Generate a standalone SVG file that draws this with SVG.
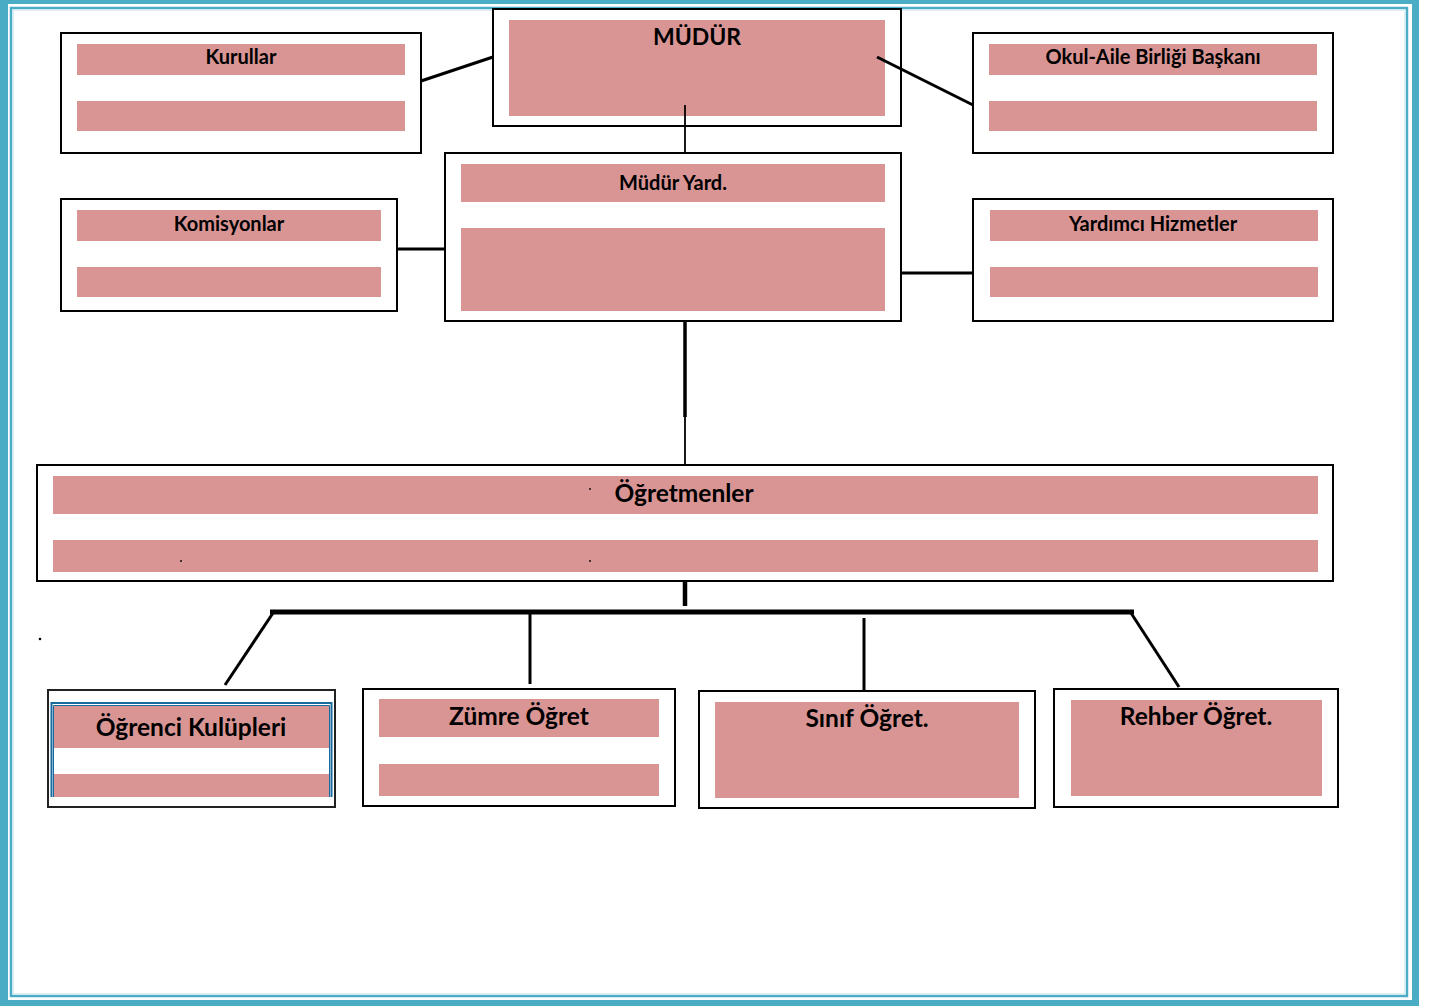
<svg xmlns="http://www.w3.org/2000/svg" width="1443" height="1006" viewBox="0 0 1443 1006">
<style>
.box{fill:#fff;stroke:#000;stroke-width:2}
.bar{fill:#D99594}
.t{font-family:Lato,"Open Sans","Liberation Sans",sans-serif;font-weight:bold;fill:#000;text-anchor:middle}
.s{font-size:20px}
.m{font-size:23px}
.l{font-size:24.5px}
.c{fill:none;stroke:#000;stroke-width:3}
</style>
<rect x="0" y="0" width="1443" height="1006" fill="#fff"/>
<g id="frame">
<path d="M0 0H1419V1006H0Z M8 4V1000H1412V4Z" fill="#4BACC6" fill-rule="evenodd"/>
<rect x="11" y="8" width="1396" height="988" fill="none" stroke="#4BACC6" stroke-width="2.5"/>
<rect x="13.5" y="10.5" width="1391" height="983" fill="none" stroke="#DAEEF3" stroke-width="1"/>
</g>
<g id="mudur">
<rect class="box" x="493" y="9" width="408" height="117"/>
<rect class="bar" x="509" y="20" width="376" height="96"/>
<text class="t m" x="697" y="45">MÜDÜR</text>
</g>
<g id="kurullar">
<rect class="box" x="61" y="33" width="360" height="120"/>
<rect class="bar" x="77" y="44" width="328" height="31"/>
<rect class="bar" x="77" y="101" width="328" height="30"/>
<text class="t s" x="241" y="64">Kurullar</text>
</g>
<g id="okul-aile">
<rect class="box" x="973" y="33" width="360" height="120"/>
<rect class="bar" x="989" y="44" width="328" height="31"/>
<rect class="bar" x="989" y="101" width="328" height="30"/>
<text class="t s" x="1153" y="64">Okul-Aile Birliği Başkanı</text>
</g>
<g id="mudur-yard">
<rect class="box" x="445" y="153" width="456" height="168"/>
<rect class="bar" x="461" y="164" width="424" height="38"/>
<rect class="bar" x="461" y="228" width="424" height="83"/>
<text class="t s" x="673" y="190">Müdür Yard.</text>
</g>
<g id="komisyonlar">
<rect class="box" x="61" y="199" width="336" height="112"/>
<rect class="bar" x="77" y="210" width="304" height="31"/>
<rect class="bar" x="77" y="267" width="304" height="30"/>
<text class="t s" x="229" y="231">Komisyonlar</text>
</g>
<g id="yardimci">
<rect class="box" x="973" y="199" width="360" height="122"/>
<rect class="bar" x="990" y="210" width="328" height="31"/>
<rect class="bar" x="990" y="267" width="328" height="30"/>
<text class="t s" x="1153" y="231">Yardımcı Hizmetler</text>
</g>
<g id="ogretmenler">
<rect class="box" x="37" y="465" width="1296" height="116"/>
<rect class="bar" x="53" y="476" width="1265" height="38"/>
<rect class="bar" x="53" y="540" width="1265" height="32"/>
<text class="t l" x="684" y="502">Öğretmenler</text>
<circle cx="590" cy="489" r="0.9" fill="#000"/>
<circle cx="181" cy="561" r="0.9" fill="#000"/>
<circle cx="590" cy="561" r="0.9" fill="#000"/>
</g>
<circle cx="40" cy="639" r="1.3" fill="#000"/>
<g id="ogrenci-kulupleri">
<rect x="48" y="690" width="287" height="117" fill="#fff" stroke="#222" stroke-width="2"/>
<rect class="bar" x="54" y="705" width="275" height="43"/>
<rect class="bar" x="54" y="774" width="275" height="23"/>
<path d="M51.5 797V703H331.5V797" fill="none" stroke="#17699E" stroke-width="2"/>
<path d="M53.5 797V705.5H329.5V797" fill="none" stroke="#17699E" stroke-width="1"/>
<text class="t l" x="191" y="736">Öğrenci Kulüpleri</text>
</g>
<g id="zumre">
<rect class="box" x="363" y="689" width="312" height="117"/>
<rect class="bar" x="379" y="699" width="280" height="38"/>
<rect class="bar" x="379" y="764" width="280" height="32"/>
<text class="t l" x="519" y="725">Zümre Öğret</text>
</g>
<g id="sinif">
<rect class="box" x="699" y="691" width="336" height="117"/>
<rect class="bar" x="715" y="702" width="304" height="96"/>
<text class="t l" x="867" y="727">Sınıf Öğret.</text>
</g>
<g id="rehber">
<rect class="box" x="1054" y="689" width="284" height="118"/>
<rect class="bar" x="1071" y="700" width="251" height="96"/>
<text class="t l" x="1196" y="725">Rehber Öğret.</text>
</g>
<g id="connectors">
<line class="c" x1="421" y1="81" x2="493" y2="57"/>
<line class="c" x1="877" y1="57" x2="973" y2="105"/>
<line class="c" x1="685" y1="105" x2="685" y2="153" style="stroke-width:1.8"/>
<line class="c" x1="397" y1="249" x2="445" y2="249"/>
<line class="c" x1="901" y1="273" x2="973" y2="273"/>
<line class="c" x1="685" y1="321" x2="685" y2="417" style="stroke-width:3.5"/>
<line class="c" x1="685" y1="417" x2="685" y2="465" style="stroke-width:1.8"/>
<line class="c" x1="685" y1="581" x2="685" y2="606" style="stroke-width:4.5"/>
<line class="c" x1="270" y1="612" x2="1134" y2="612" style="stroke-width:5"/>
<line class="c" x1="273" y1="613" x2="225" y2="685"/>
<line class="c" x1="530" y1="614" x2="530" y2="684"/>
<line class="c" x1="864" y1="618" x2="864" y2="690"/>
<line class="c" x1="1131" y1="613" x2="1179" y2="687"/>
</g>
</svg>
